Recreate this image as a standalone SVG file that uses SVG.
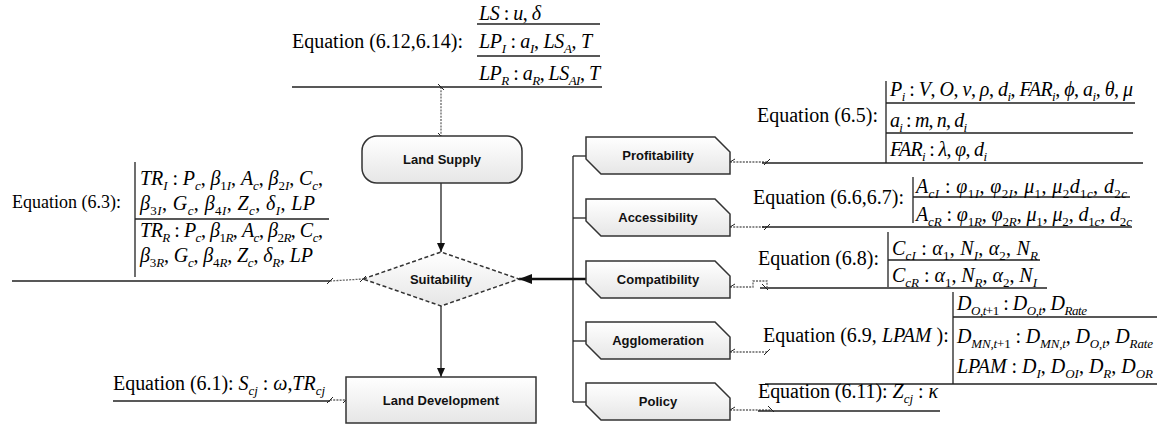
<svg xmlns="http://www.w3.org/2000/svg" width="1159" height="425" viewBox="0 0 1159 425">
<style>
.eq{font-family:"Liberation Serif","Times New Roman",serif;font-size:20px;fill:#000}
.e18{font-size:18px}
.i{font-style:italic}
.s{font-size:13px}
.lbl{font-family:"Liberation Sans",Arial,sans-serif;font-size:13px;font-weight:bold;fill:#111;text-anchor:middle}
.rule{stroke:#222;stroke-width:1.3;fill:none}
.dot{stroke:#666;stroke-width:1.3;stroke-dasharray:2 1.2;fill:none}
.tick{stroke:#222;stroke-width:1;fill:none}
.node{fill:url(#g);stroke:#333;stroke-width:1.5}
.link{stroke:#222;stroke-width:1.3;fill:none}
</style>
<defs>
<linearGradient id="g" x1="0" y1="0" x2="0" y2="1">
<stop offset="0" stop-color="#ffffff"/>
<stop offset="1" stop-color="#e6e6e6"/>
</linearGradient>
<marker id="arr" markerUnits="userSpaceOnUse" markerWidth="10" markerHeight="10" refX="9" refY="4" orient="auto">
<path d="M0,0 L9,4 L0,8 z" fill="#111"/>
</marker>
<marker id="arrBig" markerUnits="userSpaceOnUse" markerWidth="14" markerHeight="12" refX="13" refY="5" orient="auto">
<path d="M0,0 L13,5 L0,10 z" fill="#111"/>
</marker>
</defs>

<!-- Connectors -->
<g id="connectors">
<line class="link" x1="441" y1="183" x2="441" y2="252" marker-end="url(#arr)"/>
<line class="link" x1="441" y1="306" x2="441" y2="377" marker-end="url(#arr)"/>
<line class="link" x1="573" y1="156" x2="573" y2="402"/>
<line class="link" x1="573" y1="156" x2="586" y2="156"/>
<line class="link" x1="573" y1="218" x2="586" y2="218"/>
<line class="link" x1="573" y1="341" x2="586" y2="341"/>
<line class="link" x1="573" y1="402" x2="586" y2="402"/>
<line class="link" x1="573" y1="279" x2="586" y2="279"/>
<line x1="586" y1="279" x2="519" y2="279" stroke="#111" stroke-width="2.4" marker-end="url(#arrBig)"/>
<!-- dotted leader links -->
<line class="dot" x1="441" y1="87" x2="441" y2="136"/>
<path class="tick" d="M438,84 L444,90 M438,133 L444,139"/>
<line class="dot" x1="330" y1="281" x2="363" y2="279"/>
<path class="tick" d="M327,284 L333,278 M360,282 L366,276"/>
<line class="dot" x1="330" y1="400" x2="346" y2="400"/>
<path class="tick" d="M327,403 L333,397 M343,403 L349,397"/>
<line class="dot" x1="730" y1="162" x2="767" y2="162"/>
<path class="tick" d="M730,162 L735,159 M764,165 L770,159"/>
<line class="dot" x1="730" y1="227" x2="767" y2="227"/>
<path class="tick" d="M730,227 L735,224 M764,230 L770,224"/>
<path class="dot" d="M730,287 H753 V281 H767 V287"/>
<path class="tick" d="M730,287 L735,284 M762,284 L768,290"/>
<line class="dot" x1="730" y1="352" x2="767" y2="352"/>
<path class="tick" d="M730,352 L735,349 M764,355 L770,349"/>
<line class="dot" x1="730" y1="410" x2="771" y2="410"/>
<path class="tick" d="M730,410 L735,407 M768,406 L774,412"/>
</g>

<!-- Nodes -->
<g id="land-supply">
<rect class="node" x="362" y="136" width="160" height="47" rx="15"/>
<text class="lbl" x="442" y="164">Land Supply</text>
</g>
<g id="suitability">
<polygon class="node" points="363,279 441,252 519,279 441,306" stroke-dasharray="4 2.5"/>
<text class="lbl" x="441" y="284">Suitability</text>
</g>
<g id="land-development">
<rect class="node" x="346" y="377" width="190" height="46"/>
<text class="lbl" x="441" y="405">Land Development</text>
</g>
<g id="profitability">
<path class="node" d="M586,137 H715 L730,152 V174 H601 L586,159 Z"/>
<text class="lbl" x="658" y="160">Profitability</text>
</g>
<g id="accessibility">
<path class="node" d="M586,199 H715 L730,214 V236 H601 L586,221 Z"/>
<text class="lbl" x="658" y="222">Accessibility</text>
</g>
<g id="compatibility">
<path class="node" d="M586,261 H715 L730,276 V298 H601 L586,283 Z"/>
<text class="lbl" x="658" y="284">Compatibility</text>
</g>
<g id="agglomeration">
<path class="node" d="M586,322 H715 L730,337 V359 H601 L586,344 Z"/>
<text class="lbl" x="658" y="345">Agglomeration</text>
</g>
<g id="policy">
<path class="node" d="M586,383 H715 L730,398 V420 H601 L586,405 Z"/>
<text class="lbl" x="658" y="406">Policy</text>
</g>

<!-- Equation (6.12,6.14) -->
<g id="eq-supply">
<path class="rule" d="M477,24 H600 M477,56 H600 M292,87 H602"/>
<text class="eq" x="292" y="48">Equation (6.12,6.14):</text>
<text class="eq" x="479" y="20" textLength="62" lengthAdjust="spacing"><tspan class="i">LS</tspan> : <tspan class="i">u</tspan>, <tspan class="i">δ</tspan></text>
<text class="eq" x="479" y="48" textLength="113" lengthAdjust="spacing"><tspan class="i">LP</tspan><tspan class="s i" dy="5">I</tspan><tspan dy="-5"> : </tspan><tspan class="i">a</tspan><tspan class="s i" dy="5">I</tspan><tspan dy="-5">, </tspan><tspan class="i">LS</tspan><tspan class="s i" dy="5">A</tspan><tspan dy="-5">, </tspan><tspan class="i">T</tspan></text>
<text class="eq" x="479" y="80" textLength="121" lengthAdjust="spacing"><tspan class="i">LP</tspan><tspan class="s i" dy="5">R</tspan><tspan dy="-5"> : </tspan><tspan class="i">a</tspan><tspan class="s i" dy="5">R</tspan><tspan dy="-5">, </tspan><tspan class="i">LS</tspan><tspan class="s i" dy="5">AI</tspan><tspan dy="-5">, </tspan><tspan class="i">T</tspan></text>
</g>

<!-- Equation (6.3) -->
<g id="eq-suitability">
<path class="rule" d="M135,162 V277 M135,219 H329 M12,281 H330"/>
<text class="eq e18" x="12" y="208">Equation (6.3):</text>
<text class="eq" x="140" y="185" textLength="183" lengthAdjust="spacing"><tspan class="i">TR</tspan><tspan class="s i" dy="5">I</tspan><tspan dy="-5"> : </tspan><tspan class="i">P</tspan><tspan class="s i" dy="5">c</tspan><tspan dy="-5">, </tspan><tspan class="i">β</tspan><tspan class="s" dy="5">1</tspan><tspan class="s i">I</tspan><tspan dy="-5">, </tspan><tspan class="i">A</tspan><tspan class="s i" dy="5">c</tspan><tspan dy="-5">, </tspan><tspan class="i">β</tspan><tspan class="s" dy="5">2</tspan><tspan class="s i">I</tspan><tspan dy="-5">, </tspan><tspan class="i">C</tspan><tspan class="s i" dy="5">c</tspan><tspan dy="-5">,</tspan></text>
<text class="eq" x="140" y="210" textLength="175" lengthAdjust="spacing"><tspan class="i">β</tspan><tspan class="s" dy="5">3</tspan><tspan class="s i">I</tspan><tspan dy="-5">, </tspan><tspan class="i">G</tspan><tspan class="s i" dy="5">c</tspan><tspan dy="-5">, </tspan><tspan class="i">β</tspan><tspan class="s" dy="5">4</tspan><tspan class="s i">I</tspan><tspan dy="-5">, </tspan><tspan class="i">Z</tspan><tspan class="s i" dy="5">c</tspan><tspan dy="-5">, </tspan><tspan class="i">δ</tspan><tspan class="s i" dy="5">I</tspan><tspan dy="-5">, </tspan><tspan class="i">LP</tspan></text>
<text class="eq" x="140" y="237" textLength="183" lengthAdjust="spacing"><tspan class="i">TR</tspan><tspan class="s i" dy="5">R</tspan><tspan dy="-5"> : </tspan><tspan class="i">P</tspan><tspan class="s i" dy="5">c</tspan><tspan dy="-5">, </tspan><tspan class="i">β</tspan><tspan class="s" dy="5">1</tspan><tspan class="s i">R</tspan><tspan dy="-5">, </tspan><tspan class="i">A</tspan><tspan class="s i" dy="5">c</tspan><tspan dy="-5">, </tspan><tspan class="i">β</tspan><tspan class="s" dy="5">2</tspan><tspan class="s i">R</tspan><tspan dy="-5">, </tspan><tspan class="i">C</tspan><tspan class="s i" dy="5">c</tspan><tspan dy="-5">,</tspan></text>
<text class="eq" x="140" y="262" textLength="173" lengthAdjust="spacing"><tspan class="i">β</tspan><tspan class="s" dy="5">3</tspan><tspan class="s i">R</tspan><tspan dy="-5">, </tspan><tspan class="i">G</tspan><tspan class="s i" dy="5">c</tspan><tspan dy="-5">, </tspan><tspan class="i">β</tspan><tspan class="s" dy="5">4</tspan><tspan class="s i">R</tspan><tspan dy="-5">, </tspan><tspan class="i">Z</tspan><tspan class="s i" dy="5">c</tspan><tspan dy="-5">, </tspan><tspan class="i">δ</tspan><tspan class="s i" dy="5">R</tspan><tspan dy="-5">, </tspan><tspan class="i">LP</tspan></text>
</g>

<!-- Equation (6.1) -->
<g id="eq-development">
<path class="rule" d="M113,401 H330"/>
<text class="eq" x="113" y="390" textLength="212" lengthAdjust="spacing">Equation (6.1): <tspan class="i">S</tspan><tspan class="s i" dy="5">cj</tspan><tspan dy="-5"> : </tspan><tspan class="i">ω</tspan>,<tspan class="i">TR</tspan><tspan class="s i" dy="5">cj</tspan></text>
</g>

<!-- Equation (6.5) -->
<g id="eq-profitability">
<path class="rule" d="M886,81 V163 M886,103 H1135 M886,133 H1133 M762,163 H1143"/>
<text class="eq" x="757" y="122">Equation (6.5):</text>
<text class="eq" x="890" y="96" textLength="243" lengthAdjust="spacing"><tspan class="i">P</tspan><tspan class="s i" dy="5">i</tspan><tspan dy="-5"> : </tspan><tspan class="i">V</tspan>, <tspan class="i">O</tspan>, <tspan class="i">ν</tspan>, <tspan class="i">ρ</tspan>, <tspan class="i">d</tspan><tspan class="s i" dy="5">i</tspan><tspan dy="-5">, </tspan><tspan class="i">FAR</tspan><tspan class="s i" dy="5">i</tspan><tspan dy="-5">, </tspan><tspan class="i">ϕ</tspan>, <tspan class="i">a</tspan><tspan class="s i" dy="5">i</tspan><tspan dy="-5">, </tspan><tspan class="i">θ</tspan>, <tspan class="i">μ</tspan></text>
<text class="eq" x="890" y="127" textLength="77" lengthAdjust="spacing"><tspan class="i">a</tspan><tspan class="s i" dy="5">i</tspan><tspan dy="-5"> : </tspan><tspan class="i">m</tspan>, <tspan class="i">n</tspan>, <tspan class="i">d</tspan><tspan class="s i" dy="5">i</tspan></text>
<text class="eq" x="890" y="156" textLength="97" lengthAdjust="spacing"><tspan class="i">FAR</tspan><tspan class="s i" dy="5">i</tspan><tspan dy="-5"> : </tspan><tspan class="i">λ</tspan>, <tspan class="i">φ</tspan>, <tspan class="i">d</tspan><tspan class="s i" dy="5">i</tspan></text>
</g>

<!-- Equation (6.6,6.7) -->
<g id="eq-accessibility">
<path class="rule" d="M913,177 V223 M913,197 H1130 M762,227 H1132"/>
<text class="eq" x="753" y="204">Equation (6.6,6.7):</text>
<text class="eq" x="916" y="193" textLength="211" lengthAdjust="spacing"><tspan class="i">A</tspan><tspan class="s i" dy="5">cI</tspan><tspan dy="-5"> : </tspan><tspan class="i">φ</tspan><tspan class="s" dy="5">1</tspan><tspan class="s i">I</tspan><tspan dy="-5">, </tspan><tspan class="i">φ</tspan><tspan class="s" dy="5">2</tspan><tspan class="s i">I</tspan><tspan dy="-5">, </tspan><tspan class="i">μ</tspan><tspan class="s" dy="5">1</tspan><tspan dy="-5">, </tspan><tspan class="i">μ</tspan><tspan class="s" dy="5">2</tspan><tspan class="i" dy="-5">d</tspan><tspan class="s" dy="5">1</tspan><tspan class="s i">c</tspan><tspan dy="-5">, </tspan><tspan class="i">d</tspan><tspan class="s" dy="5">2</tspan><tspan class="s i">c</tspan></text>
<text class="eq" x="916" y="221" textLength="216" lengthAdjust="spacing"><tspan class="i">A</tspan><tspan class="s i" dy="5">cR</tspan><tspan dy="-5"> : </tspan><tspan class="i">φ</tspan><tspan class="s" dy="5">1</tspan><tspan class="s i">R</tspan><tspan dy="-5">, </tspan><tspan class="i">φ</tspan><tspan class="s" dy="5">2</tspan><tspan class="s i">R</tspan><tspan dy="-5">, </tspan><tspan class="i">μ</tspan><tspan class="s" dy="5">1</tspan><tspan dy="-5">, </tspan><tspan class="i">μ</tspan><tspan class="s" dy="5">2</tspan><tspan dy="-5">, </tspan><tspan class="i">d</tspan><tspan class="s" dy="5">1</tspan><tspan class="s i">c</tspan><tspan dy="-5">, </tspan><tspan class="i">d</tspan><tspan class="s" dy="5">2</tspan><tspan class="s i">c</tspan></text>
</g>

<!-- Equation (6.8) -->
<g id="eq-compatibility">
<path class="rule" d="M888,232 V287 M888,260 H1040 M760,288 H1047"/>
<text class="eq" x="758" y="265">Equation (6.8):</text>
<text class="eq" x="892" y="255" textLength="146" lengthAdjust="spacing"><tspan class="i">C</tspan><tspan class="s i" dy="5">cI</tspan><tspan dy="-5"> : </tspan><tspan class="i">α</tspan><tspan class="s" dy="5">1</tspan><tspan dy="-5">, </tspan><tspan class="i">N</tspan><tspan class="s i" dy="5">I</tspan><tspan dy="-5">, </tspan><tspan class="i">α</tspan><tspan class="s" dy="5">2</tspan><tspan dy="-5">, </tspan><tspan class="i">N</tspan><tspan class="s i" dy="5">R</tspan></text>
<text class="eq" x="892" y="282" textLength="145" lengthAdjust="spacing"><tspan class="i">C</tspan><tspan class="s i" dy="5">cR</tspan><tspan dy="-5"> : </tspan><tspan class="i">α</tspan><tspan class="s" dy="5">1</tspan><tspan dy="-5">, </tspan><tspan class="i">N</tspan><tspan class="s i" dy="5">R</tspan><tspan dy="-5">, </tspan><tspan class="i">α</tspan><tspan class="s" dy="5">2</tspan><tspan dy="-5">, </tspan><tspan class="i">N</tspan><tspan class="s i" dy="5">I</tspan></text>
</g>

<!-- Equation (6.9, LPAM) -->
<g id="eq-agglomeration">
<path class="rule" d="M953,292 V384 M953,317 H1157 M765,384 H1157"/>
<text class="eq" x="763" y="342">Equation (6.9, <tspan class="i">LPAM</tspan> ):</text>
<text class="eq" x="957" y="310" textLength="130" lengthAdjust="spacing"><tspan class="i">D</tspan><tspan class="s i" dy="5">O</tspan><tspan class="s">,</tspan><tspan class="s i">t</tspan><tspan class="s">+1</tspan><tspan dy="-5"> : </tspan><tspan class="i">D</tspan><tspan class="s i" dy="5">O</tspan><tspan class="s">,</tspan><tspan class="s i">t</tspan><tspan dy="-5">, </tspan><tspan class="i">D</tspan><tspan class="s i" dy="5">Rate</tspan></text>
<text class="eq" x="957" y="343" textLength="196" lengthAdjust="spacing"><tspan class="i">D</tspan><tspan class="s i" dy="5">MN</tspan><tspan class="s">,</tspan><tspan class="s i">t</tspan><tspan class="s">+1</tspan><tspan dy="-5"> : </tspan><tspan class="i">D</tspan><tspan class="s i" dy="5">MN</tspan><tspan class="s">,</tspan><tspan class="s i">t</tspan><tspan dy="-5">, </tspan><tspan class="i">D</tspan><tspan class="s i" dy="5">O</tspan><tspan class="s">,</tspan><tspan class="s i">t</tspan><tspan dy="-5">, </tspan><tspan class="i">D</tspan><tspan class="s i" dy="5">Rate</tspan></text>
<text class="eq" x="957" y="373" textLength="196" lengthAdjust="spacing"><tspan class="i">LPAM</tspan> : <tspan class="i">D</tspan><tspan class="s i" dy="5">I</tspan><tspan dy="-5">, </tspan><tspan class="i">D</tspan><tspan class="s i" dy="5">OI</tspan><tspan dy="-5">, </tspan><tspan class="i">D</tspan><tspan class="s i" dy="5">R</tspan><tspan dy="-5">, </tspan><tspan class="i">D</tspan><tspan class="s i" dy="5">OR</tspan></text>
</g>

<!-- Equation (6.11) -->
<g id="eq-policy">
<path class="rule" d="M758,411 H940"/>
<text class="eq" x="758" y="398" textLength="180" lengthAdjust="spacing">Equation (6.11): <tspan class="i">Z</tspan><tspan class="s i" dy="5">cj</tspan><tspan dy="-5"> : </tspan><tspan class="i">κ</tspan></text>
</g>
</svg>
